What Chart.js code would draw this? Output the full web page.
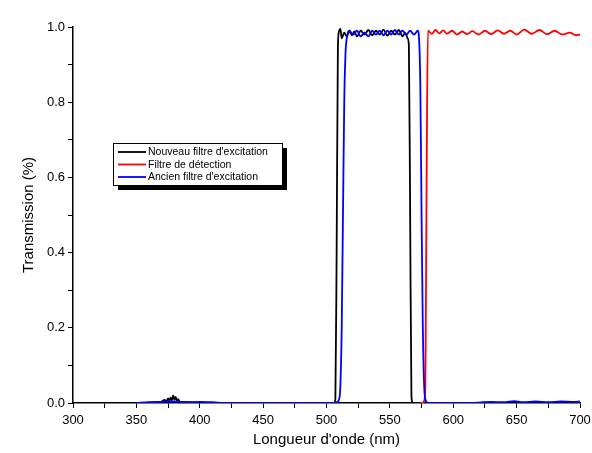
<!DOCTYPE html>
<html>
<head>
<meta charset="utf-8">
<script src="https://cdn.jsdelivr.net/npm/chart.js@4/dist/chart.umd.min.js"></script>
<style>
  html, body { margin: 0; padding: 0; background: #fff; }
  #wrap { width: 592px; height: 453px; }
</style>
</head>
<body>
<div id="wrap"><canvas id="myChart" width="592" height="453"></canvas></div>
<script>
// Nouveau filtre d'excitation (black)
var nouveau_x = [350, 360, 365, 370, 372, 374, 375, 376, 377, 378, 379, 380, 381, 382, 383, 384, 386, 390, 400, 420, 450, 480, 500, 506, 507, 508, 509, 510, 511, 512, 514, 516, 518, 520, 522, 524, 527, 530, 533, 536, 539, 542, 545, 548, 551, 554, 557, 560, 562, 564, 565, 566, 567, 568, 570, 580, 600, 650, 700];
var nouveau_y = [0.0, 0.001, 0.002, 0.004, 0.008, 0.005, 0.012, 0.006, 0.014, 0.007, 0.02, 0.009, 0.016, 0.006, 0.01, 0.004, 0.003, 0.002, 0.001, 0.0, 0.0, 0.0, 0.0, 0.0, 0.01, 0.4, 0.95, 0.99, 0.995, 0.97, 0.985, 0.975, 0.99, 0.978, 0.988, 0.975, 0.99, 0.98, 0.992, 0.978, 0.99, 0.98, 0.993, 0.977, 0.99, 0.98, 0.992, 0.975, 0.985, 0.97, 0.95, 0.5, 0.02, 0.0, 0.0, 0.0, 0.0, 0.0, 0.0];

// Filtre de détection (red)
var detection_x = [574, 576, 577, 578, 579, 580, 583, 586, 589, 592, 595, 599, 603, 607, 611, 615, 620, 625, 630, 635, 640, 645, 650, 656, 662, 668, 674, 680, 686, 692, 697, 700];
var detection_y = [0.0, 0.0, 0.005, 0.05, 0.6, 0.99, 0.982, 0.992, 0.983, 0.991, 0.982, 0.99, 0.98, 0.988, 0.981, 0.989, 0.98, 0.99, 0.981, 0.991, 0.982, 0.99, 0.98, 0.993, 0.982, 0.992, 0.981, 0.99, 0.98, 0.985, 0.978, 0.98];

// Ancien filtre d'excitation (blue)
var ancien_x = [350, 360, 370, 380, 390, 400, 410, 420, 450, 480, 505, 508, 510, 511, 512, 513, 514, 515, 516, 518, 521, 524, 527, 530, 533, 536, 539, 542, 545, 548, 551, 554, 557, 560, 563, 566, 569, 572, 573, 574, 575, 576, 577, 578, 580, 600, 620, 630, 640, 648, 655, 665, 675, 685, 695, 700];
var ancien_y = [0.0, 0.002, 0.003, 0.004, 0.002, 0.003, 0.002, 0.0, 0.0, 0.0, 0.0, 0.002, 0.01, 0.05, 0.2, 0.5, 0.8, 0.93, 0.97, 0.99, 0.98, 0.99, 0.975, 0.985, 0.975, 0.99, 0.98, 0.99, 0.978, 0.99, 0.98, 0.992, 0.98, 0.99, 0.98, 0.99, 0.98, 0.99, 0.97, 0.85, 0.5, 0.2, 0.05, 0.01, 0.0, 0.0, 0.001, 0.003, 0.002, 0.005, 0.002, 0.004, 0.002, 0.004, 0.003, 0.004];

var series_labels = ["Nouveau filtre d'excitation", "Filtre de détection", "Ancien filtre d'excitation"];
var series_colors = ['#000000', '#ff0000', '#0000ff'];

function toPoints(xs, ys) {
    return xs.map((x, i) => ({ x: x, y: ys[i] }));
}

// legend box with drop shadow, drawn inside the plot
const boxLegend = {
    id: 'boxLegend',
    afterDraw(chart) {
        const ctx = chart.ctx;
        const x = 113, y = 143, w = 169, h = 42;
        ctx.save();
        ctx.fillStyle = '#000';
        ctx.fillRect(x + 5, y + 5, w, h);
        ctx.fillStyle = '#fff';
        ctx.fillRect(x, y, w, h);
        ctx.strokeStyle = '#000';
        ctx.lineWidth = 1;
        ctx.strokeRect(x + 0.5, y + 0.5, w, h);
        ctx.font = '10.5px "Liberation Sans", Arial, sans-serif';
        ctx.textBaseline = 'middle';
        chart.data.datasets.forEach((ds, i) => {
            const ry = y + 9 + i * 12.5;
            ctx.strokeStyle = ds.borderColor;
            ctx.lineWidth = 1.8;
            ctx.beginPath();
            ctx.moveTo(x + 5, ry);
            ctx.lineTo(x + 33, ry);
            ctx.stroke();
            ctx.fillStyle = '#000';
            ctx.fillText(ds.label, x + 35, ry + 0.5);
        });
        ctx.restore();
    }
};

const ctx = document.getElementById('myChart').getContext('2d');
const myChart = new Chart(ctx, {
    type: 'line',
    data: {
        datasets: [
            {
                label: series_labels[0],
                data: toPoints(nouveau_x, nouveau_y),
                borderColor: series_colors[0],
                order: 2
            },
            {
                label: series_labels[1],
                data: toPoints(detection_x, detection_y),
                borderColor: series_colors[1],
                order: 1
            },
            {
                label: series_labels[2],
                data: toPoints(ancien_x, ancien_y),
                borderColor: series_colors[2],
                order: 0
            }
        ]
    },
    options: {
        responsive: false,
        animation: false,
        events: [],
        layout: { padding: { left: 20, right: 12, top: 27, bottom: 4 } },
        elements: {
            point: { radius: 0 },
            line: { borderWidth: 1.8, cubicInterpolationMode: 'monotone', fill: false }
        },
        plugins: {
            legend: { display: false },
            tooltip: { enabled: false }
        },
        scales: {
            x: {
                type: 'linear',
                min: 300,
                max: 700,
                afterFit: scale => { scale.height = 46; scale.paddingRight = 0; scale.paddingLeft = 0; },
                border: { display: true, color: '#000', width: 1.5 },
                grid: { drawOnChartArea: false, drawTicks: true, tickLength: 5, tickColor: '#000', tickWidth: 1 },
                ticks: {
                    stepSize: 25,
                    color: '#000',
                    font: { family: '"Liberation Sans", Arial, sans-serif', size: 13 },
                    padding: 5,
                    maxRotation: 0,
                    autoSkip: false,
                    callback: v => (v % 50 === 0 ? String(v) : '')
                },
                title: {
                    display: true,
                    text: "Longueur d'onde (nm)",
                    color: '#000',
                    font: { family: '"Liberation Sans", Arial, sans-serif', size: 15 },
                    padding: { top: 0, bottom: 0 }
                }
            },
            y: {
                type: 'linear',
                min: 0,
                max: 1.0,
                afterFit: scale => { scale.width = 53; },
                border: { display: true, color: '#000', width: 1.5 },
                grid: { drawOnChartArea: false, drawTicks: true, tickLength: 5, tickColor: '#000', tickWidth: 1 },
                ticks: {
                    stepSize: 0.1,
                    color: '#000',
                    font: { family: '"Liberation Sans", Arial, sans-serif', size: 13 },
                    padding: 3,
                    autoSkip: false,
                    callback: v => (Math.round(v * 10) % 2 === 0 ? v.toFixed(1) : '')
                },
                title: {
                    display: true,
                    text: 'Transmission (%)',
                    color: '#000',
                    font: { family: '"Liberation Sans", Arial, sans-serif', size: 15 },
                    padding: { top: 0, bottom: 4 }
                }
            }
        }
    },
    plugins: [boxLegend]
});
</script>
</body>
</html>
